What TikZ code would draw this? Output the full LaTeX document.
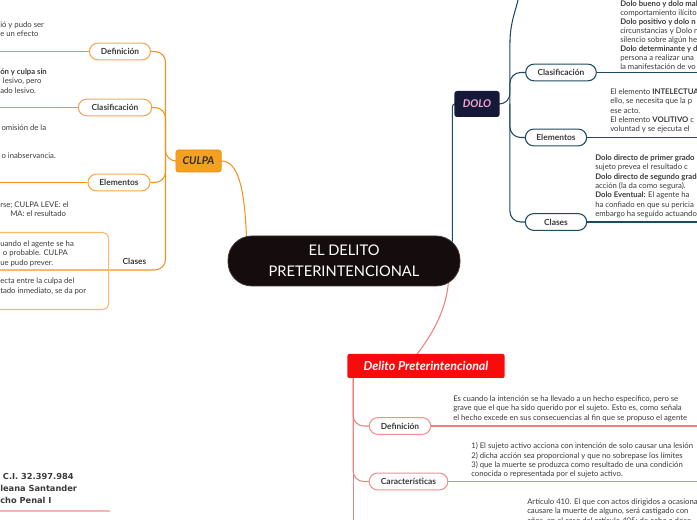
\documentclass[tikz,border=0pt]{standalone}
\usepackage{fontspec}
\setmainfont{Lato}
\newfontfamily\namefont{DejaVu Sans}
\usetikzlibrary{calc, backgrounds}
\definecolor{inkGray}{HTML}{3A3A3A}
\definecolor{coreFill}{HTML}{140C0D}
\definecolor{coreRim}{HTML}{3C3434}
\definecolor{culpaFill}{HTML}{F4A021}
\definecolor{culpaRim}{HTML}{E58A10}
\definecolor{culpaLine}{HTML}{F5931F}
\definecolor{culpaPill}{HTML}{F8A748}
\definecolor{culpaFrame}{HTML}{FBB96F}
\definecolor{doloFill}{HTML}{151838}
\definecolor{doloText}{HTML}{F4A7D0}
\definecolor{doloLine}{HTML}{1F4A60}
\definecolor{preterFill}{HTML}{FA0A0A}
\definecolor{preterLine}{HTML}{F47D7D}
\definecolor{preterPill}{HTML}{F68E8E}
\definecolor{authorLine}{HTML}{F7B2B2}
\tikzset{
  lineO/.style={draw=culpaLine, line width=0.8pt},
  lineD/.style={draw=doloLine, line width=0.8pt},
  lineR/.style={draw=preterLine, line width=0.8pt},
  pillBase/.style={rectangle, rounded corners=6.2pt, fill=white, line width=0.8pt,
                   text=inkGray, font=\bfseries\fontsize{6.3}{7}\selectfont,
                   minimum height=12.5pt, inner xsep=4pt, inner ysep=1pt},
  pillO/.style={pillBase, draw=culpaPill},
  pillD/.style={pillBase, draw=doloLine},
  pillR/.style={pillBase, draw=preterPill},
  boxCore/.style={rectangle, rounded corners=18pt, fill=coreFill, draw=coreRim,
                  line width=0.6pt, text=white, align=center,
                  font=\fontsize{11}{15.5}\selectfont,
                  minimum width=174pt, minimum height=37.5pt},
  boxOrange/.style={rectangle, rounded corners=2pt, fill=culpaFill, draw=culpaRim,
                    line width=0.5pt, text=inkGray!80!black,
                    font=\bfseries\itshape\fontsize{8}{10}\selectfont,
                    minimum width=34pt, minimum height=16.5pt},
  boxNavy/.style={rectangle, rounded corners=2pt, fill=doloFill, text=doloText,
                  font=\bfseries\itshape\fontsize{8}{10}\selectfont,
                  minimum width=34pt, minimum height=19.5pt},
  boxRed/.style={rectangle, rounded corners=1.5pt, fill=preterFill, text=white,
                 font=\bfseries\itshape\fontsize{9.3}{11}\selectfont,
                 minimum width=118pt, minimum height=18pt},
  frameO/.style={rectangle, rounded corners=4pt, draw=culpaFrame, line width=0.8pt},
  note/.style={anchor=north west, align=left, inner sep=0pt, text=inkGray,
               font=\fontsize{5.8}{7}\selectfont},
  nameTxt/.style={anchor=north west, align=left, inner sep=0pt, text=inkGray,
                  font=\namefont\bfseries\fontsize{6.2}{9}\selectfont},
}
\begin{document}
\begin{tikzpicture}[x=0.75pt, y=-0.75pt]
  \useasboundingbox (0,0) rectangle (697,520);
  \coordinate (edgeL) at (0,0);
  \coordinate (edgeR) at (697,0);
  \coordinate (edgeB) at (0,520);

  % main topics
  \node[boxCore] (core) at (344,261) {EL DELITO\\PRETERINTENCIONAL};
  \node[boxOrange] (culpa) at (198.5,161) {CULPA};
  \node[boxNavy] (dolo) at (477,104) {DOLO};
  \node[boxRed] (preter) at (426,366) {Delito Preterintencional};

  % CULPA
  \node[pillO, minimum width=45.75pt] (cDef) at (120,51.5) {Definición};
  \node[pillO, minimum width=55pt] (cClas) at (115,107.5) {Clasificación};
  \node[pillO, minimum width=46.5pt] (cEle) at (119,182.5) {Elementos};
  \node[text=inkGray, font=\bfseries\fontsize{6.3}{7}\selectfont, inner sep=0pt,
        anchor=base] (cClases) at (134.5,264.5) {Clases};
  \coordinate (cClasesEnd) at (0,270);
  \coordinate (cHub) at ($(culpa.west)+(-10,0)$);
  \node[frameO, anchor=north west, minimum width=96pt, minimum height=57.75pt]
    (cBox) at (-20,232) {};

  \node[note] (cDefTxt) at (0,21.5) {ió y pudo ser\\e un efecto};
  \node[note] (cClasTxt) at (0,68.5)
    {\textbf{ón y culpa sin}\\\hspace*{2pt}lesivo, pero\\ado lesivo.};
  \node[note] (cEleTxt) at (0,124.5) {\hspace*{1pt}omisión de la\\[14pt]\hspace*{1pt}o inabservancia.};
  \node[note] (cClaTxt) at (0,201.5) {rse; CULPA LEVE: el\\\hspace*{7.5pt}MA: el resultado};
  \node[note] (cBoxTxt) at (0,240.5)
    {uando el agente se ha\\\hspace*{2pt}o probable. CULPA\\ue pudo prever.\\[7pt]ecta entre la culpa del\\tado inmediato, se da por};

  % DOLO
  \node[pillD, minimum width=53pt] (dClas) at (561,72.5) {Clasificación};
  \node[pillD, minimum width=46pt] (dEle) at (556,137.5) {Elementos};
  \node[pillD, minimum width=46pt] (dCla) at (556,222) {Clases};
  \coordinate (dHub) at ($(dolo.east)+(10,0)$);
  \coordinate (dTop) at (518,0);

  \node[note, font=\fontsize{5.8}{6.7}\selectfont] (dClasTxt) at (620,0.5)
    {\textbf{Dolo bueno y dolo malo}\\comportamiento ilícito\\\textbf{Dolo positivo y dolo n}\\circunstancias y Dolo n\\silencio sobre algún he\\\textbf{Dolo determinante y d}\\persona a realizar una\\la manifestación de vo};
  \node[note] (dEleTxt) at (610,88.5)
    {El elemento \textbf{INTELECTUAL}\\ello, se necesita que la p\\ese acto.\\El elemento \textbf{VOLITIVO} c\\voluntad y se ejecuta el};
  \node[note] (dClaTxt) at (595,154.5)
    {\textbf{Dolo directo de primer grado}\\sujeto prevea el resultado c\\\textbf{Dolo directo de segundo grado}\\acción (la da como segura).\\\textbf{Dolo Eventual:} El agente ha\\ha confiado en que su pericia\\embargo ha seguido actuando};

  % Delito Preterintencional
  \node[pillR, minimum width=46pt] (pDef) at (400,426) {Definición};
  \node[pillR, minimum width=59pt] (pCar) at (408.5,481.5) {Características};
  \coordinate (pHub) at ($(preter.south west)+(6,0)$);

  \node[note] (pDefTxt) at (453,395.5)
    {Es cuando la intención se ha llevado a un hecho específico, pero se\\grave que el que ha sido querido por el sujeto. Esto es, como señala\\el hecho excede en sus consecuencias al fin que se propuso el agente};
  \node[note] (pCarTxt) at (471,442.5)
    {1) El sujeto activo acciona con intención de solo causar una lesión\\2) dicha acción sea proporcional y que no sobrepase los límites\\3) que la muerte se produzca como resultado de una condición\\conocida o representada por el sujeto activo.};
  \node[note] (pArtTxt) at (527,498.5)
    {Artículo 410. El que con actos dirigidos a ocasionar\\causare la muerte de alguno, será castigado con\\años, en el caso del artículo 405; de ocho a doce};

  % author
  \node[nameTxt] (author) at (0,473) {\hspace*{2pt}C.I. 32.397.984\\leana Santander\\cho Penal I};
  \coordinate (authorEnd) at (110,511);
  \draw[draw=authorLine, line width=1.5pt] (edgeL |- authorEnd) -- (authorEnd);

  \begin{scope}[on background layer]
    % to the central topic
    \draw[lineO] (culpa.east) .. controls (237,161) and (245,185) .. ($(core.north west)+(19,6)$);
    \draw[lineD, rounded corners=2pt] (dolo.west) -| ($(core.north east)+(-8,6)$);
    \draw[lineR] ($(core.south east)+(-12,-4)$) .. controls (446,312) and (430,338) .. ($(preter.north)+(-11,3)$);
    % CULPA branches
    \draw[lineO, rounded corners=8pt] (culpa.west) -- (cHub) |- (cDef.east);
    \draw[lineO, rounded corners=8pt] (cHub) |- (cClas.east);
    \draw[lineO, rounded corners=8pt] (cHub) |- (cEle.east);
    \draw[lineO, rounded corners=8pt] (cHub) |- (cClasesEnd);
    \draw[lineO] (cDef.west) -- (cDef.west -| edgeL);
    \draw[lineO] (cClas.west) -- (cClas.west -| edgeL);
    \draw[lineO] (cEle.west) -- (cEle.west -| edgeL);
    % DOLO branches
    \draw[lineD, rounded corners=8pt] (dolo.east) -- (dHub) |- (dClas.west);
    \draw[lineD, rounded corners=8pt] (dHub) |- (dEle.west);
    \draw[lineD, rounded corners=8pt] (dHub) |- (dCla.west);
    \draw[lineD] (dHub) -- ($(dHub)+(0,-60)$) .. controls (510,22) and (516,10) .. (dTop);
    \draw[lineD] (dClas.east) -- (dClas.east -| edgeR);
    \draw[lineD] (dEle.east) -- (dEle.east -| edgeR);
    \draw[lineD] (dCla.east) -- (dCla.east -| edgeR);
    % Preterintencional branches
    \draw[lineR, rounded corners=8pt] (pHub) |- (pDef.west);
    \draw[lineR, rounded corners=8pt] (pHub) |- (pCar.west);
    \draw[lineR] (pHub) -- (pHub |- edgeB);
    \draw[lineR] (pDef.east) -- (pDef.east -| edgeR);
    \draw[lineR] (pCar.east) -- (pCar.east -| edgeR);
  \end{scope}
\end{tikzpicture}
\end{document}
